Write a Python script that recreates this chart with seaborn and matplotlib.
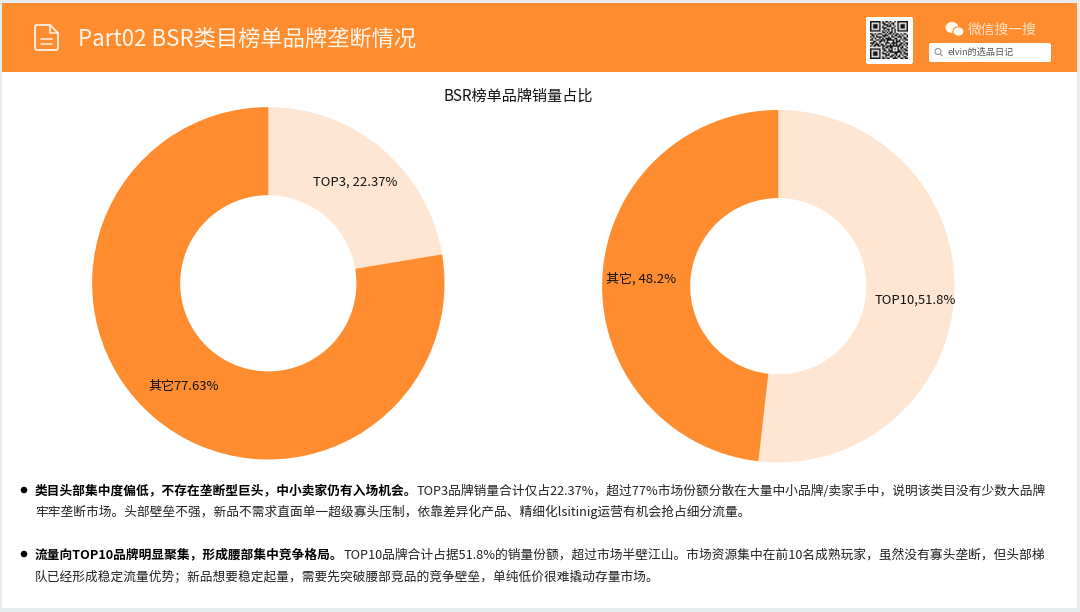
import numpy as np
import matplotlib
matplotlib.use("Agg")
import matplotlib.pyplot as plt
from matplotlib.patches import Rectangle, Circle, Ellipse, FancyBboxPatch, PathPatch
from matplotlib.path import Path
import seaborn as sns

sns.set_theme(style="white")
plt.rcParams['font.family'] = ['Noto Sans CJK SC', 'DejaVu Sans']

left_labels = ["TOP3, 22.37%", "其它77.63%"]
left_values = [22.37, 77.63]
right_labels = ["TOP10,51.8%", "其它, 48.2%"]
right_values = [51.8, 48.2]
palette = sns.color_palette(["#FEE6D2", "#FF8D2F"])

header_title = "Part02 BSR类目榜单品牌垄断情况"
chart_title = "BSR榜单品牌销量占比"
wechat_label = "微信搜一搜"
search_label = "elvin的选品日记"
para1_bold = "类目头部集中度偏低，不存在垄断型巨头，中小卖家仍有入场机会。"
para1_a = "TOP3品牌销量合计仅占22.37%，超过77%市场份额分散在大量中小品牌/卖家手中，说明该类目没有少数大品牌"
para1_b = "牢牢垄断市场。头部壁垒不强，新品不需求直面单一超级寡头压制，依靠差异化产品、精细化lsitinig运营有机会抢占细分流量。"
para2_bold = "流量向TOP10品牌明显聚集，形成腰部集中竞争格局。"
para2_a = "TOP10品牌合计占据51.8%的销量份额，超过市场半壁江山。市场资源集中在前10名成熟玩家，虽然没有寡头垄断，但头部梯"
para2_b = "队已经形成稳定流量优势；新品想要稳定起量，需要先突破腰部竞品的竞争壁垒，单纯低价很难撬动存量市场。"
qr_rows = [
    "1111111010110100101111111", "1000001011001011001000001", "1011101001110101001011101",
    "1011101010011100101011101", "1011101011100011001011101", "1000001001011010101000001",
    "1111111010101010101111111", "0000000011010110100000000", "1101011100101101011010110",
    "0110100011110010110101001", "1010111101001011001110101", "0101001010111100110010110",
    "1100110111011111010101011", "0011001101010001011100100", "1110101000111011110011011",
    "0101110110100101010110101", "1011011011011111111101010", "0000000010110110001011001",
    "1111111011001010101010110", "1000001001101110001101011", "1011101010010111111110100",
    "1011101011101000110010111", "1011101000111011010101001", "1000001010100110101100110",
    "1111111011011001110011011",
]

W, H = 1080, 612
fig = plt.figure(figsize=(W / 100, H / 100), dpi=100, facecolor="#E6ECEC")
bg = fig.add_axes([0, 0, 1, 1])
bg.set_xlim(0, W); bg.set_ylim(H, 0); bg.axis("off")

bg.add_patch(Rectangle((2, 3), 1075, 605, fc="white", ec="none"))
bg.add_patch(Rectangle((2, 3), 1075, 69, fc="#FF8D2F", ec="none"))

# document icon
doc = Path([(37, 25), (50, 25), (58, 33), (58, 47), (58, 50), (56, 50), (37, 50), (35, 50), (35, 48), (35, 27), (35, 25), (37, 25)],
           [1, 2, 2, 2, 3, 3, 2, 3, 3, 2, 3, 3])
bg.add_patch(PathPatch(doc, fc="none", ec="#FFF1E4", lw=1.3))
bg.plot([50, 50, 58], [25, 33, 33], color="#FFF1E4", lw=1.1)
bg.plot([41, 52], [39, 39], color="#FFF1E4", lw=1.1)
bg.plot([41, 52], [44, 44], color="#FFF1E4", lw=1.1)

bg.text(78, 39.5, header_title, color="#FFF6EE", fontsize=16.05, va="center", ha="left")

# QR block
bg.add_patch(FancyBboxPatch((866, 17), 47, 47, boxstyle="round,pad=0,rounding_size=2", fc="white", ec="none"))
qr = np.array([[int(c) for c in r] for r in qr_rows])
bg.imshow(1 - qr, cmap="gray", extent=(870, 908, 59, 21), interpolation="bilinear", aspect="auto",
          vmin=-0.1, vmax=1.1, zorder=3)
bg.set_xlim(0, W); bg.set_ylim(H, 0)

# WeChat mark and search box
bg.add_patch(Ellipse((952, 27.5), 13, 11, fc="#FFF6EE", ec="none"))
bg.add_patch(Ellipse((958.5, 31.5), 11, 9.5, fc="#FFF6EE", ec="#FF8D2F", lw=0.8))
bg.text(968, 30, wechat_label, color="#FFE3CB", fontsize=9.9, va="center", ha="left")
bg.add_patch(FancyBboxPatch((929, 43), 122, 19, boxstyle="round,pad=0,rounding_size=2", fc="white", ec="none"))
bg.add_patch(Circle((938, 51.5), 3, fc="none", ec="#888888", lw=0.7))
bg.plot([940.2, 942.5], [53.8, 56], color="#888888", lw=0.7)
bg.text(948, 52.5, search_label, color="#555555", fontsize=6.6, va="center", ha="left")

bg.text(518.5, 96.5, chart_title, color="#111111", fontsize=10.9, va="center", ha="center")


def donut(cx, cy, radius, values, labels, offsets):
    ax = fig.add_axes([(cx - radius) / W, 1 - (cy + radius) / H, 2 * radius / W, 2 * radius / H])
    wedges, texts = ax.pie(values, labels=labels, colors=palette, startangle=90, counterclock=False,
                           labeldistance=0.757, radius=1,
                           wedgeprops=dict(width=0.5, edgecolor="none"),
                           textprops=dict(fontsize=9.4, color="#111111"))
    for t, (dx, dy) in zip(texts, offsets):
        x, y = t.get_position()
        t.set_position((x + dx / radius, y + dy / radius))
        t.set_ha("center"); t.set_va("center")
    ax.set_xlim(-1, 1); ax.set_ylim(-1, 1)
    ax.set_aspect("equal"); ax.axis("off")
    ax.patch.set_alpha(0)


donut(268.3, 283.3, 176.2, left_values, left_labels, [(1, -1), (2, -1)])
donut(778.3, 286.2, 176.2, right_values, right_labels, [(4, -6), (-4, 0)])

# commentary
txt = fig.add_axes([0, 0, 1, 1])
txt.set_xlim(0, W); txt.set_ylim(H, 0); txt.axis("off"); txt.patch.set_alpha(0)
for y in (490, 554):
    txt.add_patch(Circle((24, y), 3.3, fc="black", ec="none"))
fs = 9.15
txt.text(35, 491, para1_bold, fontsize=fs, fontweight="bold", color="black", va="center")
txt.text(417, 491, para1_a, fontsize=fs, color="#222222", va="center")
txt.text(35, 512, para1_b, fontsize=fs, color="#222222", va="center")
txt.text(35, 555, para2_bold, fontsize=fs, fontweight="bold", color="black", va="center")
txt.text(344, 555, para2_a, fontsize=fs, color="#222222", va="center")
txt.text(35, 577, para2_b, fontsize=fs, color="#222222", va="center")

fig.savefig("out.png", dpi=100, facecolor=fig.get_facecolor())
